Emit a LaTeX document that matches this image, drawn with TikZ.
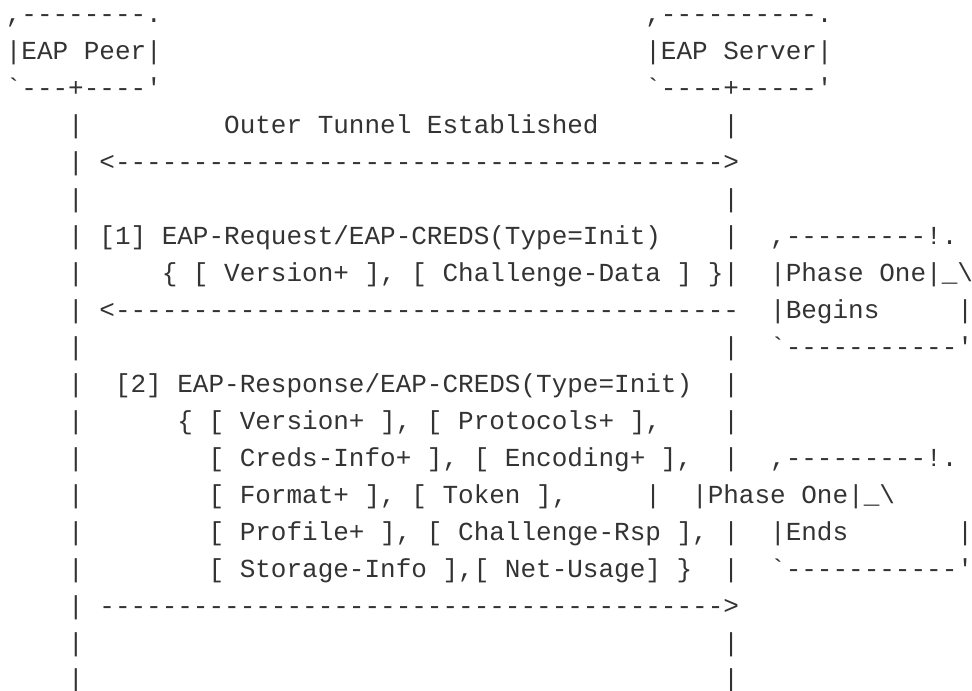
\documentclass[tikz,border=0pt]{standalone}
\usepackage{fontspec}
\setmonofont{Liberation Mono}
\usepackage{tikz}
\definecolor{inkgray}{HTML}{333333}
\frenchspacing

\begin{document}
\begin{tikzpicture}[x=15.6pt,y=-37pt,
    every node/.style={anchor=base west,inner sep=0pt,outer sep=0pt,
      text=inkgray,font=\ttfamily\fontsize{26}{30}\selectfont}]
  \useasboundingbox (0,0) rectangle (62.31,18.65);
  \begin{scope}[shift={(0.372,-0.405)}]
      % the two parties
      \draw (0,1) node (peertop) {,--------.};
      \draw (0,2) node (peer) {|EAP Peer|};
      \draw (0,3) node (peerbot) {`---+----'};
      \draw (41,1) node (srvtop) {,----------.};
      \draw (41,2) node (srv) {|EAP Server|};
      \draw (41,3) node (srvbot) {`----+-----'};

      % lifelines
      \foreach \r in {4,...,19}
        \draw (4,\r) node (pl\r) {|};
      \foreach \r in {4,6,7,8,10,11,12,13,15,16,18,19}
        \draw (46,\r) node (sl\r) {|};
      \draw (41,14) node (sl14) {|};

      % tunnel
      \draw (14,4) node (tunnel) {Outer Tunnel Established};
      \draw (6,5) node (tunnelarr) {<--------------------------------------->};

      % message 1
      \draw (6,7) node (req) {[1] EAP-Request/EAP-CREDS(Type=Init)};
      \draw (10,8) node (reqdata) {\{ [ Version+ ], [ Challenge-Data ] \}};
      \draw (6,9) node (reqarr) {<----------------------------------------};

      % message 2
      \draw (7,11) node (rsp) {[2] EAP-Response/EAP-CREDS(Type=Init)};
      \draw (11,12) node (rspa) {\{ [ Version+ ], [ Protocols+ ],};
      \draw (13,13) node (rspb) {[ Creds-Info+ ], [ Encoding+ ],};
      \draw (13,14) node (rspc) {[ Format+ ], [ Token ],};
      \draw (13,15) node (rspd) {[ Profile+ ], [ Challenge-Rsp ],};
      \draw (13,16) node (rspe) {[ Storage-Info ],[ Net-Usage] \}};
      \draw (6,17) node (rsparr) {---------------------------------------->};

      % notes
      \draw (49,7) node (begtop) {,---------!.};
      \draw (49,8) node (begin) {|Phase One|\_\textbackslash};
      \draw (49,9) node (beginb) {|Begins};
      \draw (61,9) node (begright) {|};
      \draw (49,10) node (begbot) {`-----------'};
      \draw (49,13) node (endtop) {,---------!.};
      \draw (44,14) node (end) {|Phase One|\_\textbackslash};
      \draw (49,15) node (endb) {|Ends};
      \draw (61,15) node (endright) {|};
      \draw (49,16) node (endbot) {`-----------'};
  \end{scope}
\end{tikzpicture}
\end{document}
